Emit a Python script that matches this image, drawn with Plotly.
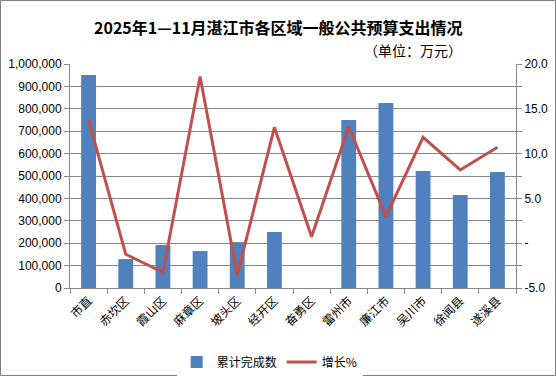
import plotly.graph_objects as go

categories = ["市直", "赤坎区", "霞山区", "麻章区", "坡头区", "经开区", "奋勇区",
              "雷州市", "廉江市", "吴川市", "徐闻县", "遂溪县"]
cumulative = [951000, 129000, 192000, 165000, 205000, 250000, None,
              750000, 826000, 522000, 415000, 518000]
growth = [13.75, -1.24, -3.25, 18.6, -3.55, 12.93, 0.73,
          13.0, 2.96, 11.82, 8.17, 10.7]

left_ticks = list(range(0, 1000001, 100000))
left_text = ["{:,}".format(v) for v in left_ticks]
right_ticks = [-5 + 2.5 * i for i in range(11)]
right_text = []
for v in right_ticks:
    if v == 0:
        right_text.append("-")
    elif v % 5 == 0:
        right_text.append("{:.1f}".format(v))
    else:
        right_text.append("")

W, H = 556, 376
ML, MR, MT, MB = 70, 40, 64, 88
grid = "#878787"
font_fam = "Liberation Sans, Arial, Noto Sans CJK SC, sans-serif"
cjk = "Noto Sans CJK SC, sans-serif"

fig = go.Figure()
fig.add_trace(go.Bar(x=categories, y=cumulative, name="累计完成数",
                     marker=dict(color="#4F81BD", line=dict(width=0)),
                     yaxis="y"))
fig.add_trace(go.Scatter(x=categories, y=growth, name="增长%", mode="lines",
                         line=dict(color="#C0504D", width=3),
                         yaxis="y2"))

pw = W - ML - MR
ph = H - MT - MB
fig.update_layout(
    width=W, height=H,
    margin=dict(l=ML, r=MR, t=MT, b=MB, autoexpand=False),
    paper_bgcolor="white", plot_bgcolor="white",
    bargap=0.6,
    font=dict(family=font_fam, size=12, color="black"),
    showlegend=True,
    legend=dict(orientation="h", xref="container", yref="container",
                x=0.485, xanchor="center", y=1 - 362 / H, yanchor="middle",
                font=dict(family=cjk, size=12),
                traceorder="normal"),
    xaxis=dict(type="category", showgrid=False, showline=True, linecolor=grid,
               linewidth=1, ticks="outside", tickson="boundaries", ticklen=5,
               tickcolor=grid, tickangle=-45, automargin=False,
               tickfont=dict(family=cjk, size=12),
               mirror=False, zeroline=False),
    yaxis=dict(range=[0, 1000000], tickvals=left_ticks, ticktext=left_text,
               showgrid=True, gridcolor=grid, gridwidth=1, showline=True,
               linecolor=grid, ticks="outside", ticklen=5, tickcolor=grid,
               zeroline=False, tickfont=dict(size=12), automargin=False),
    yaxis2=dict(range=[-5, 20], tickvals=right_ticks, ticktext=right_text,
                overlaying="y", side="right", showgrid=False, showline=True,
                linecolor=grid, ticks="outside", ticklen=5, tickcolor=grid,
                zeroline=False, tickfont=dict(size=12), automargin=False),
    annotations=[
        dict(text="<b>2025年1—11月湛江市各区域一般公共预算支出情况</b>",
             xref="paper", yref="paper", x=(W / 2 - ML) / pw, y=1 + (MT - 27) / ph,
             xanchor="center", yanchor="middle", showarrow=False,
             font=dict(family=cjk, size=16, color="black")),
        dict(text="（单位：万元）",
             xref="paper", yref="paper", x=(413 - ML) / pw, y=1 + (MT - 50) / ph,
             xanchor="center", yanchor="middle", showarrow=False,
             font=dict(family=cjk, size=14, color="black")),
    ],
    shapes=[
        dict(type="rect", xref="paper", yref="paper",
             x0=(-ML + 0.5) / pw, x1=1 + (MR - 0.5) / pw,
             y0=(-MB + 0.5) / ph, y1=1 + (MT - 0.5) / ph,
             line=dict(color="#7f7f7f", width=1), layer="below"),
    ],
)

fig.write_html("out.html", config={"displayModeBar": False},
               post_script="document.body.style.margin='0';document.body.style.overflow='hidden';")
